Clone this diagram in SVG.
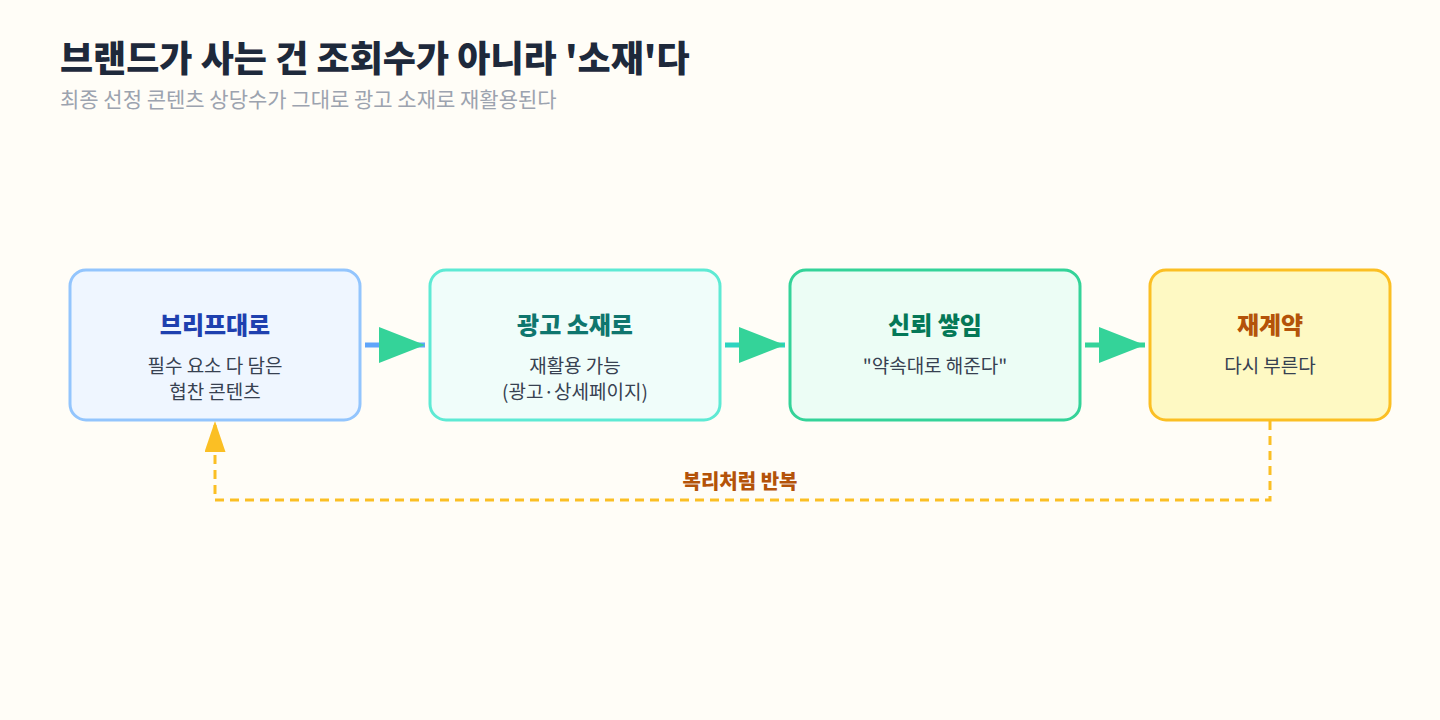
<svg xmlns="http://www.w3.org/2000/svg" width="1440" height="720" viewBox="0 0 1440 720">
<defs>
<style>
text{font-family:"Noto Sans CJK KR","Noto Sans",sans-serif}
.title{font-size:36px;font-weight:800;fill:#1e293b}
.sub{font-size:21px;fill:#9ca3af}
.bt{font-size:24px;font-weight:800;text-anchor:middle}
.bd{font-size:19px;fill:#374151;text-anchor:middle}
.box{stroke-width:3}
.flow{stroke-width:5;fill:none}
.loop{stroke:#fbbf24;stroke-width:3;fill:none;stroke-dasharray:9 6}
</style>
<marker id="ah" viewBox="0 0 46 36" refX="46" refY="18" markerWidth="46" markerHeight="36" markerUnits="userSpaceOnUse" orient="auto">
<path d="M0,0 L46,18 L0,36 Z" fill="#34d399"/>
</marker>
<marker id="ahy" viewBox="0 0 31 21" refX="31" refY="10.5" markerWidth="31" markerHeight="21" markerUnits="userSpaceOnUse" orient="auto">
<path d="M0,0 L31,10.5 L0,21 Z" fill="#fbbf24"/>
</marker>
</defs>
<rect width="1440" height="720" fill="#fffdf7"/>
<text class="title" x="60" y="72">브랜드가 사는 건 조회수가 아니라 '소재'다</text>
<text class="sub" x="60" y="107">최종 선정 콘텐츠 상당수가 그대로 광고 소재로 재활용된다</text>
<g id="connectors">
<line class="flow" x1="365" y1="345" x2="425" y2="345" stroke="#60a5fa" marker-end="url(#ah)"/>
<line class="flow" x1="725" y1="345" x2="785" y2="345" stroke="#2dd4bf" marker-end="url(#ah)"/>
<line class="flow" x1="1085" y1="345" x2="1145" y2="345" stroke="#34d399" marker-end="url(#ah)"/>
<path class="loop" d="M1270,421 L1270,500 L215,500 L215,421" marker-end="url(#ahy)"/>
<text x="740" y="489" text-anchor="middle" style="font-size:20px;font-weight:800;fill:#b45309">복리처럼 반복</text>
</g>
<g id="node-brief">
<rect class="box" x="70" y="270" width="290" height="150" rx="16" fill="#eff6ff" stroke="#93c5fd"/>
<text class="bt" x="215" y="334" fill="#1e40af">브리프대로</text>
<text class="bd" x="215" y="373">필수 요소 다 담은</text>
<text class="bd" x="215" y="399">협찬 콘텐츠</text>
</g>
<g id="node-ad">
<rect class="box" x="430" y="270" width="290" height="150" rx="16" fill="#f0fdfa" stroke="#5eead4"/>
<text class="bt" x="575" y="334" fill="#0f766e">광고 소재로</text>
<text class="bd" x="575" y="373">재활용 가능</text>
<text class="bd" x="575" y="399">(광고·상세페이지)</text>
</g>
<g id="node-trust">
<rect class="box" x="790" y="270" width="290" height="150" rx="16" fill="#ecfdf5" stroke="#34d399"/>
<text class="bt" x="935" y="334" fill="#047857">신뢰 쌓임</text>
<text class="bd" x="935" y="373">"약속대로 해준다"</text>
</g>
<g id="node-renew">
<rect class="box" x="1150" y="270" width="240" height="150" rx="16" fill="#fef9c3" stroke="#fbbf24"/>
<text class="bt" x="1270" y="334" fill="#b45309">재계약</text>
<text class="bd" x="1270" y="373">다시 부른다</text>
</g>
</svg>
